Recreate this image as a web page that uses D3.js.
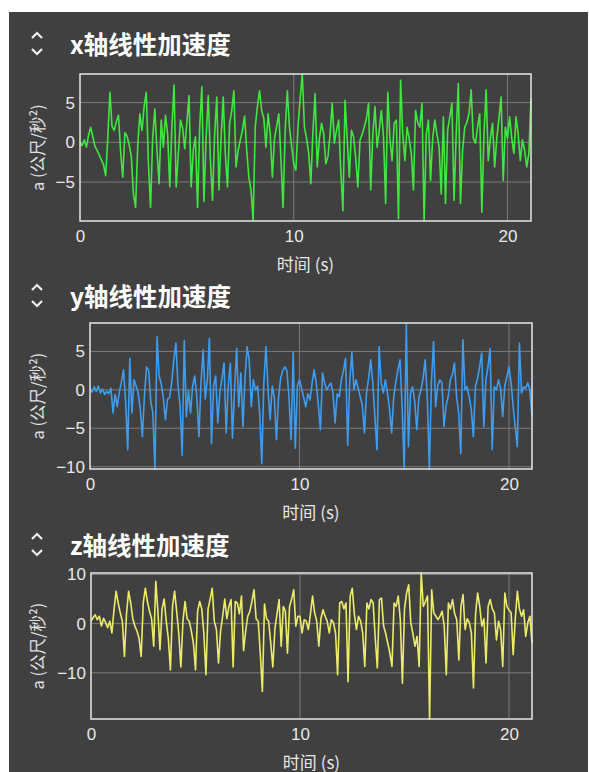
<!DOCTYPE html>
<html>
<head>
<meta charset="utf-8">
<script src="https://cdn.jsdelivr.net/npm/d3@7"></script>
<style>
  html, body { margin: 0; padding: 0; background: #fff; }
  svg { display: block; }
</style>
</head>
<body>
<div id="chart-area"></div>
<script>
// sample spacing of the recorded signal (s)
var step = 0.1

// x linear acceleration (m/s^2), one value every 0.1 s
var accX = [
  0, -0.4, 0.3, -0.6, 0.9, 1.9, 0.7, -0.5, -1.0, -1.6,
  -2.2, -2.8, -4.2, 0.5, 6.3, 2.0, 1.5, 2.6, 3.4, -1.2,
  -4.4, 1.2, 0.8, -0.3, -1.8, -6.5, -8.2, -0.5, 3.6, 1.5,
  4.5, 6.3, -2.5, -8.2, 0.5, 4.2, -1.0, -5.2, 2.8, -0.6,
  3.4, 1.0, -5.6, 2.0, 7.2, -5.6, -1.5, 2.8, 1.8, -0.8,
  2.5, 5.9, -5.6, -1.0, 0.7, -8.2, 2.0, 7.0, -7.4, 0.5,
  5.9, -2.0, -7.3, 1.0, 5.7, -6.0, 0.5, 5.7, -1.5, -5.6,
  2.4, 4.0, 6.5, -3.1, -1.0, 0.3, 1.5, 3.3, -1.0, -4.4,
  -6.0, -9.8, 2.0, 4.5, 6.5, 4.0, 3.0, -0.6, 3.6, 1.0,
  -4.4, 0.5, 2.0, 3.6, -2.0, -8.2, 1.5, 6.5, 1.9, -0.5,
  -2.7, -3.5, 2.0, 5.5, 8.6, 1.9, 0.5, -1.4, -5.2, 1.5,
  6.1, -3.1, 0.5, 2.4, 1.1, -2.7, -1.8, 1.0, 4.9, -0.1,
  1.5, 2.8, -3.5, -8.6, 5.3, 0.5, -4.4, 1.5, 0.7, -2.0,
  -5.6, 0.3, 1.0, 1.9, 3.0, 4.9, -6.0, 1.0, 4.5, -0.6,
  1.5, 4.0, 0.7, -7.7, 6.3, 0.5, -2.3, 2.4, 2.8, -9.6,
  7.8, 1.0, -2.3, 1.9, 0.5, -1.4, -6.0, 4.0, 2.5, 1.9,
  4.9, -9.9, 1.0, 2.8, -4.8, 0.5, 2.8, 1.0, -0.6, -6.5,
  3.2, -7.7, 1.5, 3.2, 4.9, -7.3, 1.0, 7.4, -7.7, -1.0,
  1.9, 2.5, 3.6, 6.6, 0.5, -0.1, 1.9, 3.6, -8.8, 1.0,
  6.6, -2.3, 0.5, 2.4, -3.1, 0.5, 3.0, 5.7, -4.8, 1.9,
  0.5, 3.2, 0.5, -1.4, 3.2, 1.0, -2.3, 0.3, -1.0, -3.1,
  -1.4, 5.5
]

// y linear acceleration (m/s^2)
var accY = [
  0.2, -0.3, 0.4, -0.2, 0.5, -0.4, 0.1, -0.6, -0.2, -0.5,
  0.2, -3.0, -0.6, -2.2, -0.3, 1.0, 2.6, -1.5, -7.8, 4.1,
  -3.0, 1.3, 0.5, -0.4, -2.5, -6.1, -0.7, 3.0, 2.5, -1.5,
  -3.0, -10.3, 6.9, 1.8, 0.8, -1.0, -3.9, -1.2, -1.0, 1.0,
  3.9, 6.1, 0.5, -2.0, -8.5, 6.4, -3.5, -0.1, -3.0, 0.5,
  1.8, -1.0, -6.1, 1.0, 5.2, -1.2, 1.3, 6.7, -7.0, 0.5,
  1.8, -4.3, -0.3, 1.5, 3.5, -5.6, 0.5, 3.5, -6.3, 0.0,
  5.4, -2.2, 2.2, -4.8, 1.5, 5.6, 3.9, -2.2, 1.3, 0.0,
  0.5, -3.0, -9.6, 1.0, 5.6, 0.0, -3.9, 0.5, -1.0, -6.5,
  -1.0, 1.5, 2.5, 3.0, 2.5, -1.0, -6.5, 4.9, -7.6, 0.5,
  1.3, 0.2, -1.0, -2.2, -0.5, -1.3, 0.8, 2.6, 0.9, -2.0,
  -5.2, 2.2, 0.9, 0.0, 0.5, 0.9, -0.4, -4.3, -0.5, -0.9,
  1.3, 2.5, 4.1, -7.2, 1.0, 4.9, 0.0, 1.3, 0.2, -0.9,
  -2.0, -5.6, -0.4, 1.5, 3.9, 0.9, -3.5, -7.8, 5.6, 1.0,
  -0.4, 1.3, -0.4, -2.5, -5.6, -0.9, 1.0, 2.6, 3.9, -2.2,
  -10.2, 8.7, -7.4, -0.4, 0.4, -1.5, -5.2, -1.0, 0.0, 1.5,
  3.9, -0.9, -10.3, 1.0, 6.3, -2.2, 0.5, 1.3, 0.9, -4.8,
  -2.0, -0.9, 1.3, 2.0, 3.5, -0.9, -3.0, -8.3, 6.5, 0.0,
  0.4, -0.9, -2.5, -6.1, 0.4, 1.5, 3.0, 4.8, -4.8, 1.3,
  3.0, 5.4, -7.8, 0.4, 0.0, 1.3, 0.2, -3.5, 0.5, 1.7,
  3.0, 1.0, -2.2, -4.8, -7.4, 6.1, -0.4, 0.4, 0.2, 0.9,
  0.0, -3.5
]

// z linear acceleration (m/s^2)
var accZ = [
  0.5, 1.2, 1.8, 0.8, 1.5, -0.5, 1.1, 0.2, -0.8, 0.5,
  -1.9, 2.8, 6.6, 4.2, 2.2, 0.5, -6.7, 2.0, 6.6, 4.2,
  1.0, -0.5, -1.5, -3.0, -6.7, 4.2, 7.2, 4.5, 2.5, 1.0,
  -4.6, 8.6, 2.5, -5.3, 3.0, 5.0, 0.5, -3.0, -9.4, 3.5,
  6.6, 2.5, -2.0, -8.8, 0.5, 4.5, 1.0, 0.5, -1.5, -4.0,
  -9.4, 2.5, 4.5, 3.0, -2.0, -10.4, 3.0, 5.0, 7.2, 0.5,
  -1.2, -8.0, -1.5, 1.5, 5.0, 1.0, 3.5, 4.9, -8.8, 4.5,
  4.2, 2.0, 5.6, -5.5, -1.5, 1.5, 2.5, 4.5, 6.9, 1.0,
  0.5, -6.0, -13.8, 4.0, 1.0, 0.5, -4.0, -8.8, -1.0, 2.0,
  4.9, -4.6, 3.5, 2.5, -6.0, 3.5, 5.0, 6.9, -0.5, 1.5,
  1.5, -1.9, 0.8, 0.5, -1.2, 2.0, 5.6, 2.2, 0.5, -4.6,
  1.0, 2.8, 1.5, 0.5, -1.9, 0.8, 0.2, -1.9, -10.4, 4.2,
  4.5, 3.0, 4.2, -11.8, 5.6, 7.2, 2.0, -1.2, 1.5, 0.5,
  -1.9, -8.7, 4.2, 3.0, 4.9, 4.2, -3.0, -9.0, 4.9, 5.2,
  -0.5, -2.0, -4.0, -6.0, -8.7, 4.2, 3.5, 5.6, 0.8, -12.1,
  3.0, 6.2, 7.9, 0.2, -2.0, -4.6, -2.6, -8.7, 10.3, 3.5,
  4.5, 5.6, -19.4, 6.9, 2.2, 1.5, 0.8, 1.5, 2.5, -0.5,
  -10.4, 4.2, 3.0, 4.9, 2.0, 0.8, -7.4, 3.5, 5.9, -1.2,
  1.0, 0.2, -1.9, -13.1, 2.0, 6.2, 3.5, -0.5, 1.0, -8.0,
  3.5, 4.9, 3.0, 2.2, -3.3, 0.5, -1.2, -8.7, 6.2, 3.5,
  2.8, 2.2, -6.3, 1.0, 6.6, 3.0, 1.5, 2.8, -2.6, 0.2,
  1.5, -4.0
]

var titles = ['x轴线性加速度', 'y轴线性加速度', 'z轴线性加速度']
var xTicks = [0, 10, 20]
var yTicks = [[-5, 0, 5], [-10, -5, 0, 5], [-10, 0, 10]]
var xTitle = '时间 (s)'
var yTitle = 'a (公尺/秒²)'

var width = 589
var height = 772

var svg = d3.select('#chart-area')
    .append('svg')
        .attr('width', width)
        .attr('height', height)

// dark panel
svg.append('rect')
    .attr('x', 9)
    .attr('y', 12)
    .attr('width', 579)
    .attr('height', height - 12)
    .attr('fill', '#404040')

// one box per chart: plot area + title position
var panels = [
    { values: accX, color: '#3fe83f', left: 80, right: 531, top: 74, bottom: 221, titleY: 45 },
    { values: accY, color: '#3d9df0', left: 90, right: 532, top: 323, bottom: 469, titleY: 297 },
    { values: accZ, color: '#ecec6a', left: 91, right: 532, top: 573, bottom: 719, titleY: 546 }
]

panels.forEach((p, i) => {
    var data = p.values.map((v, k) => ({ t: k * step, a: v }))

    var g = svg.append('g')

    // chevron toggle
    g.append('path')
        .attr('d', `M32,${p.titleY - 7} L37,${p.titleY - 12} L42,${p.titleY - 7}`
            + ` M32,${p.titleY + 4} L37,${p.titleY + 9} L42,${p.titleY + 4}`)
        .attr('fill', 'none')
        .attr('stroke', '#f2f2f2')
        .attr('stroke-width', 2.2)

    // title
    g.append('text')
        .attr('x', 70)
        .attr('y', p.titleY + 9)
        .attr('fill', '#ffffff')
        .attr('font-family', '"Noto Sans CJK SC", sans-serif')
        .attr('font-weight', 700)
        .attr('font-size', '24.5px')
        .text(titles[i])

    // X Scale
    var x = d3.scaleLinear()
        .domain(d3.extent(data, d => d.t))
        .range([p.left, p.right])

    // Y Scale
    var y = d3.scaleLinear()
        .domain(d3.extent(data, d => d.a))
        .range([p.bottom, p.top])

    // grid
    g.selectAll('.hgrid')
        .data(yTicks[i])
        .enter().append('line')
            .attr('x1', p.left)
            .attr('x2', p.right)
            .attr('y1', d => y(d))
            .attr('y2', d => y(d))
            .attr('stroke', '#7a7a7a')
            .attr('stroke-width', 1)

    g.selectAll('.vgrid')
        .data(xTicks.filter(d => d > 0))
        .enter().append('line')
            .attr('x1', d => x(d))
            .attr('x2', d => x(d))
            .attr('y1', p.top)
            .attr('y2', p.bottom)
            .attr('stroke', '#7a7a7a')
            .attr('stroke-width', 1)

    // the signal
    var line = d3.line()
        .x(d => x(d.t))
        .y(d => y(d.a))

    g.append('path')
        .datum(data)
        .attr('d', line)
        .attr('fill', 'none')
        .attr('stroke', p.color)
        .attr('stroke-width', 1.6)
        .attr('stroke-linejoin', 'round')

    // frame
    g.append('rect')
        .attr('x', p.left)
        .attr('y', p.top)
        .attr('width', p.right - p.left)
        .attr('height', p.bottom - p.top)
        .attr('fill', 'none')
        .attr('stroke', '#e6e6e6')
        .attr('stroke-width', 1.5)

    // Axes
    var xAxisCall = d3.axisBottom(x).tickValues(xTicks).tickSize(0).tickPadding(9)
    var xAxisGroup = g.append('g')
        .attr('transform', `translate(0, ${p.bottom})`)
        .call(xAxisCall)

    var yAxisCall = d3.axisLeft(y).tickValues(yTicks[i]).tickSize(0).tickPadding(5)
    var yAxisGroup = g.append('g')
        .attr('transform', `translate(${p.left}, 0)`)
        .call(yAxisCall)

    ;[xAxisGroup, yAxisGroup].forEach(ax => {
        ax.select('.domain').remove()
        ax.selectAll('text')
            .attr('fill', '#e8e8e8')
            .attr('font-family', '"Liberation Sans", Arial, sans-serif')
            .attr('font-size', '17px')
    })

    // x label
    g.append('text')
        .attr('x', (p.left + p.right) / 2)
        .attr('y', p.bottom + 50)
        .attr('text-anchor', 'middle')
        .attr('fill', '#e8e8e8')
        .attr('font-family', '"Noto Sans CJK SC", sans-serif')
        .attr('font-size', '17px')
        .text(xTitle)

    // y label
    g.append('text')
        .attr('x', -(p.top + p.bottom) / 2)
        .attr('y', 44)
        .attr('transform', 'rotate(-90)')
        .attr('text-anchor', 'middle')
        .attr('fill', '#e0e0e0')
        .attr('font-family', '"Noto Sans CJK SC", sans-serif')
        .attr('font-size', '16.5px')
        .text(yTitle)
})
</script>
</body>
</html>
